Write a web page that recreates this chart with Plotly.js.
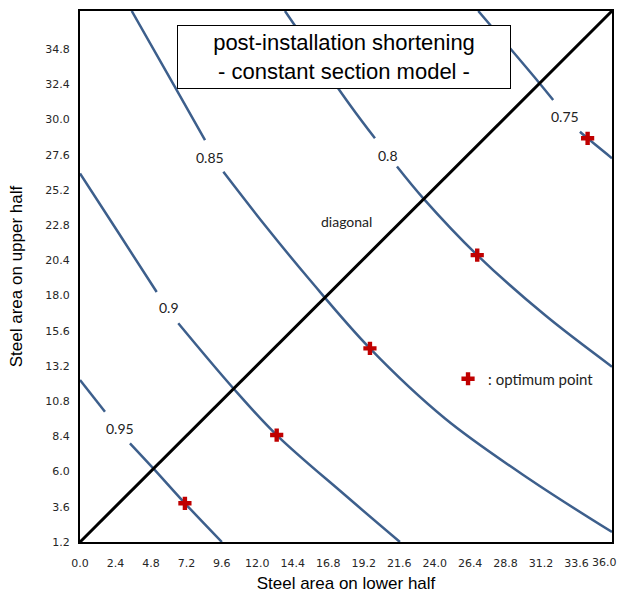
<!DOCTYPE html>
<html>
<head>
<meta charset="utf-8">
<script src="https://cdn.plot.ly/plotly-3.0.1.min.js"></script>
<style>html,body{margin:0;padding:0;background:#fff;}#chart{width:620px;height:595px;}</style>
</head>
<body>
<div id="chart"></div>
<script>
// ---- data ----
const xTicks = [0, 2.4, 4.8, 7.2, 9.6, 12.0, 14.4, 16.8, 19.2, 21.6, 24.0, 26.4, 28.8, 31.2, 33.6, 36.0];
const yTicks = [1.2, 3.6, 6.0, 8.4, 10.8, 13.2, 15.6, 18.0, 20.4, 22.8, 25.2, 27.6, 30.0, 32.4, 34.8];

const levelNames = ['0.95', '0.9', '0.85', '0.8', '0.75'];

// contour lines (null = gap where the level label sits)
const c095x = [0, 1.69, null, 3.38, 4.96, 7.10, 9.60];
const c095y = [12.24, 10.08, null, 7.93, 6.22, 3.84, 1.2];

const c090x = [0, 2.57, 5.19, null, 6.65, 10.37, 13.31, 17.93, 21.65];
const c090y = [26.33, 22.33, 18.24, null, 16.11, 11.68, 8.49, 4.4, 1.2];

const c085x = [3.50, 5.97, 8.46, null, 9.70, 12.54, 15.56, 19.62, 24.70, 30.45, 36];
const c085y = [37.4, 33.03, 28.6, null, 26.44, 22.76, 19.06, 14.4, 9.62, 5.46, 1.88];

const c080x = [13.87, 18.27, 19.96, null, 21.45, 23.23, 26.88, 31.46, 36];
const c080y = [37.4, 30.99, 28.72, null, 26.8, 24.63, 20.76, 16.67, 13.15];

const c075x = [26.95, 31.01, 32.02, null, 33.83, 34.35, 36];
const c075y = [37.4, 32.58, 31.33, null, 29.17, 28.72, 27.36];

// level label positions
const labelX = [2.71, 6.04, 8.80, 20.86, 32.8];
const labelY = [8.95, 17.2, 27.4, 27.58, 30.2];

// optimum points
const optX = [7.10, 13.31, 19.62, 26.88, 34.35];
const optY = [3.84, 8.49, 14.4, 20.76, 28.72];

// diagonal (corner to corner)
const diagX = [0, 36];
const diagY = [1.2, 37.4];
const diagLabel = {text: 'diagonal', x: 18.0, y: 23.03};

const titleLines = ['post-installation shortening', '- constant section model -'];
const xTitle = 'Steel area on lower half';
const yTitle = 'Steel area on upper half';
const optName = ': optimum point';

// ---- styling ----
const curveColor = '#3D5F8C';
const lineStyle = {color: curveColor, width: 2.5, shape: 'spline', smoothing: 1};

const curves = [[c095x, c095y], [c090x, c090y], [c085x, c085y], [c080x, c080y], [c075x, c075y]];
const traces = curves.map((c, i) => ({
  type: 'scatter', mode: 'lines', x: c[0], y: c[1], name: levelNames[i],
  line: lineStyle, connectgaps: false, showlegend: false, hoverinfo: 'skip'
}));

traces.push({
  type: 'scatter', mode: 'lines', x: diagX, y: diagY, name: 'diagonal',
  line: {color: '#000', width: 3}, showlegend: false, hoverinfo: 'skip'
});

traces.push({
  type: 'scatter', mode: 'markers', x: optX, y: optY, name: optName,
  marker: {symbol: 'cross', size: 11, color: '#C00000', line: {width: 0}},
  showlegend: true
});

const labelFont = {family: 'Lato, sans-serif', size: 14, color: '#222'};
const tickFont = {family: 'DejaVu Sans, sans-serif', size: 11, color: '#262626'};
const axTitleFont = {family: 'Liberation Sans, Arial, sans-serif', size: 17, color: '#000'};

const annotations = levelNames.map((t, i) => ({
  x: labelX[i], y: labelY[i], xref: 'x', yref: 'y', text: t,
  showarrow: false, font: labelFont
}));
annotations.push({
  x: diagLabel.x, y: diagLabel.y, xref: 'x', yref: 'y', text: diagLabel.text,
  showarrow: false, font: labelFont
});
annotations.push({
  x: 0.496, y: 0.913, xref: 'paper', yref: 'paper', xanchor: 'center', yanchor: 'middle',
  text: titleLines.join('<br>'), showarrow: false,
  font: {family: 'Liberation Sans, Arial, sans-serif', size: 22, color: '#000'},
  bgcolor: '#fff', bordercolor: '#000', borderwidth: 1, borderpad: 0,
  width: 332, height: 62, align: 'center'
});
// last x tick label: right-aligned at the plot edge (as the reference does) so it stays on the page
const lastX = xTicks[xTicks.length - 1];
annotations.push({
  x: lastX, y: 0, xref: 'x', yref: 'paper', xanchor: 'right', yanchor: 'middle',
  xshift: 6, yshift: -20, text: lastX.toFixed(1), showarrow: false,
  font: tickFont, borderpad: 0
});

const xTickText = xTicks.map((v, i) => (i === xTicks.length - 1 ? '' : v.toFixed(1)));

const layout = {
  width: 620, height: 595,
  margin: {l: 80, r: 8, t: 11, b: 53},
  paper_bgcolor: '#fff', plot_bgcolor: '#fff',
  showlegend: true,
  legend: {
    x: 0.6918, y: 0.307, xanchor: 'left', yanchor: 'middle',
    bgcolor: 'rgba(0,0,0,0)', borderwidth: 0,
    font: {family: 'Lato, sans-serif', size: 15, color: '#222'}
  },
  xaxis: {
    range: [0, 36], tickvals: xTicks, ticktext: xTickText,
    showgrid: false, zeroline: false, showline: true, mirror: true,
    linecolor: '#000', linewidth: 2, ticks: '', ticklabelstandoff: 10,
    tickfont: tickFont, fixedrange: true,
    title: {text: xTitle, font: axTitleFont, standoff: 8}
  },
  yaxis: {
    range: [1.2, 37.4], tickvals: yTicks, ticktext: yTicks.map(v => v.toFixed(1)),
    showgrid: false, zeroline: false, showline: true, mirror: true,
    linecolor: '#000', linewidth: 2, ticks: '', ticklabelstandoff: 6,
    ticklabeloverflow: 'allow',
    tickfont: tickFont, fixedrange: true,
    title: {text: yTitle, font: axTitleFont, standoff: 18}
  },
  annotations: annotations
};

Plotly.newPlot('chart', traces, layout, {displayModeBar: false, staticPlot: true});
</script>
</body>
</html>
